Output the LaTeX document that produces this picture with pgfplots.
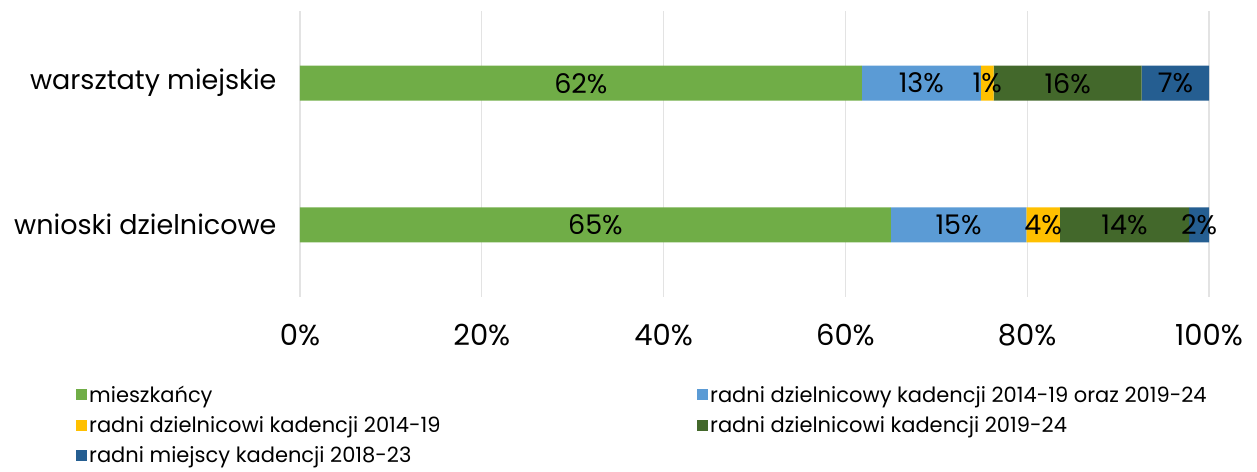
\documentclass[border=0pt]{standalone}
\usepackage{pgfplots}
\pgfplotsset{compat=1.18}
\usepackage{pgfplotstable}
\usepackage{fontspec}
\setmainfont{Poppins}
\newfontfamily\legfont{Poppins}
\definecolor{cA}{HTML}{70AD47}
\definecolor{cB}{HTML}{5B9BD5}
\definecolor{cC}{HTML}{FFC000}
\definecolor{cD}{HTML}{43682B}
\definecolor{cE}{HTML}{255E91}
\definecolor{gridc}{HTML}{E3E3E3}
\pgfplotstableread{
y mie rad rA rB rm
0 65.0 14.9 3.7 14.2 2.2
1 61.8 13.1 1.4 16.3 7.4
}\data
\begin{document}
\begin{tikzpicture}
\begin{axis}[
  name=ax,
  scale only axis,
  width=909pt, height=286pt,
  xbar stacked,
  bar width=35pt,
  xmin=0, xmax=100,
  ymin=-0.51, ymax=1.51,
  ytick={0,1},
  yticklabels={wnioski dzielnicowe, warsztaty miejskie},
  xtick={0,20,...,100},
  xticklabel={\pgfmathprintnumber{\tick}\%},
  /pgf/number format/assume math mode=true,
  major tick length=0pt,
  axis line style={draw=none},
  xmajorgrids,
  grid style={gridc, line width=1.2pt},
  xticklabel style={font=\fontsize{29}{32}\selectfont, yshift=-24pt},
  yticklabel style={font=\fontsize{27}{30}\selectfont, xshift=-20pt},
  nodes near coords={\pgfmathprintnumber[fixed,precision=0]{\val}\%},
  every node near coord/.append style={font=\fontsize{27}{30}\selectfont, black, anchor=center},
  legend columns=2,
  legend cell align=left,
  legend style={at={(rel axis cs:-0.2464,-0.305)}, anchor=north west, draw=none, fill=none,
    font=\legfont\fontsize{21}{23}\selectfont, inner sep=0pt, row sep=8.5pt},
  legend image code/.code={\draw[#1,draw=none] (0pt,-5pt) rectangle (11pt,6pt);},
]
\addplot[fill=cA, draw=none, visualization depends on={\thisrow{mie} \as \val}] table[x=mie,y=y]{\data};
\addlegendentry{\makebox[606pt][l]{mieszkańcy}}
\addplot[fill=cB, draw=none, visualization depends on={\thisrow{rad} \as \val}] table[x=rad,y=y]{\data};
\addlegendentry{radni dzielnicowy kadencji 2014-19 oraz 2019-24}
\addplot[fill=cC, draw=none, visualization depends on={\thisrow{rA} \as \val}] table[x=rA,y=y]{\data};
\addlegendentry{\makebox[606pt][l]{radni dzielnicowi kadencji 2014-19}}
\addplot[fill=cD, draw=none, visualization depends on={\thisrow{rB} \as \val}] table[x=rB,y=y]{\data};
\addlegendentry{radni dzielnicowi kadencji 2019-24}
\addplot[fill=cE, draw=none, visualization depends on={\thisrow{rm} \as \val}] table[x=rm,y=y]{\data};
\addlegendentry{\makebox[606pt][l]{radni miejscy kadencji 2018-23}}
\end{axis}
\pgfresetboundingbox
\path[use as bounding box] ([xshift=-300pt,yshift=-175pt]ax.south west) rectangle ([xshift=48pt,yshift=11pt]ax.north east);
\end{tikzpicture}
\end{document}
